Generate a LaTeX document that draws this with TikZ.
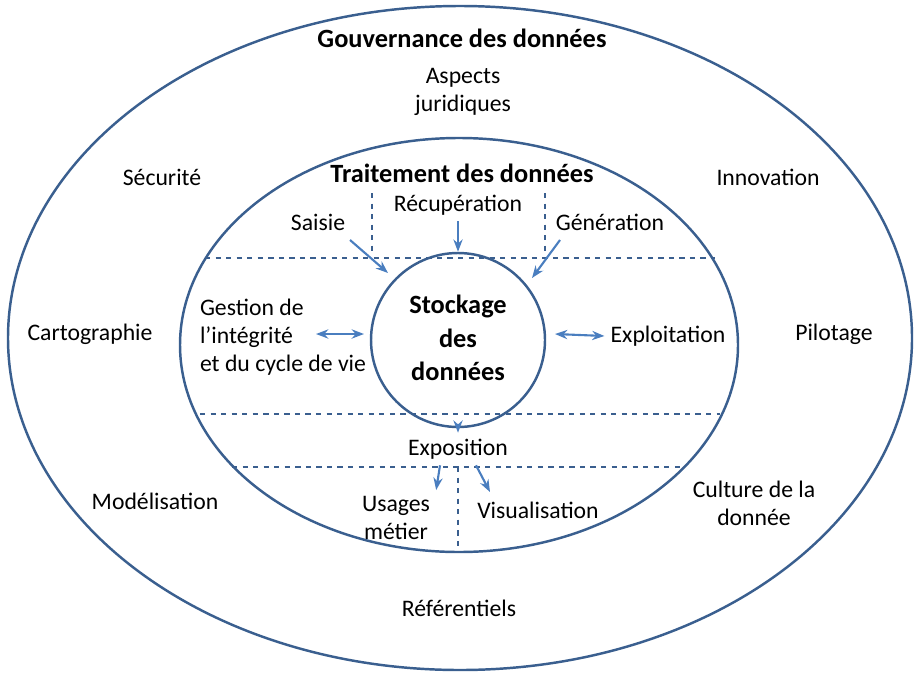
\documentclass[tikz,border=0pt]{standalone}
\usepackage{fontspec}
\setmainfont{Carlito}
\usetikzlibrary{positioning, arrows.meta}
\definecolor{ringblue}{HTML}{3A5F8F}
\definecolor{arrowblue}{HTML}{4A7EBF}
\begin{document}
\begin{tikzpicture}[x=0.02cm, y=-0.02cm,
    every node/.style={font=\fontsize{13.5}{16}\selectfont, align=center},
    title/.style={font=\fontsize{15}{18}\selectfont\bfseries},
    ring/.style={draw=ringblue, line width=1.4pt},
    sep/.style={draw=ringblue, dashed, line width=1.2pt},
    flow/.style={draw=arrowblue, line width=1.2pt, -{Stealth[length=7pt]}},
    both/.style={draw=arrowblue, line width=1.2pt, {Stealth[length=7pt]}-{Stealth[length=7pt]}}]
        \useasboundingbox (0,0) rectangle (918,676);

        % Rings
        \draw[ring] (460,338) ellipse [x radius=452, y radius=332];
        \draw[ring] (459,345) ellipse [x radius=279, y radius=207];
        \node[ring, circle, minimum size=174*0.02cm, inner sep=0pt] (store) at (458,340) {};
        \node[title, font=\fontsize{15}{19}\selectfont\bfseries] at (458,338) {Stockage\\des\\données};

        % Separators
        \draw[sep] (205,258) -- (715,258);
        \draw[sep] (200,414) -- (720,414);
        \draw[sep] (232,467) -- (683,467);
        \draw[sep] (372,193) -- (372,255);
        \draw[sep] (545,193) -- (545,255);
        \draw[sep] (458,467) -- (458,548);

        % Governance
        \node[title] (gov) at (462,38) {Gouvernance des données};
        \node (jur) at (463,92) {Aspects\\juridiques};
        \node (sec) at (162,177) {Sécurité};
        \node (inno) at (768,177) {Innovation};
        \node (carto) at (90,334) {Cartographie};
        \node (pilot) at (834,334) {Pilotage};
        \node (model) at (155,501) {Modélisation};
        \node (cult) at (754,503) {Culture de la\\donnée};
        \node (ref) at (459,608) {Référentiels};

        % Processing
        \node[title] (proc) at (462,173) {Traitement des données};
        \node (saisie) at (318,222) {Saisie};
        \node (recup) at (458,205) {Récupération};
        \node (gen) at (610,222) {Génération};
        \node[align=left] (gest) at (283,337) {Gestion de\\l’intégrité\\et du cycle de vie};
        \node (exploit) at (668,336) {Exploitation};
        \node (expo) at (458,449) {Exposition};
        \node (usage) at (396,518) {Usages\\métier};
        \node (visu) at (538,510) {Visualisation};

        % Flows
        \coordinate (s1) at (350,240); \coordinate (s2) at (388,273);
        \coordinate (g1) at (560,240); \coordinate (g2) at (532,278);
        \draw[flow] (s1) -- (s2);
        \draw[flow] (recup) -- (store.north);
        \draw[flow] (g1) -- (g2);
        \draw[both] (gest.east) ++(0,-3) coordinate (gl) (316,334) -- (364,334);
        \draw[both] (555,334) -- (exploit.west);
        \draw[flow] (store.south) -- (expo.north);
        \draw[flow] (expo.south) ++(-18,0) -- (usage.north east);
        \draw[flow] (expo.south) ++(18,0) -- (490,492);
\end{tikzpicture}
\end{document}
